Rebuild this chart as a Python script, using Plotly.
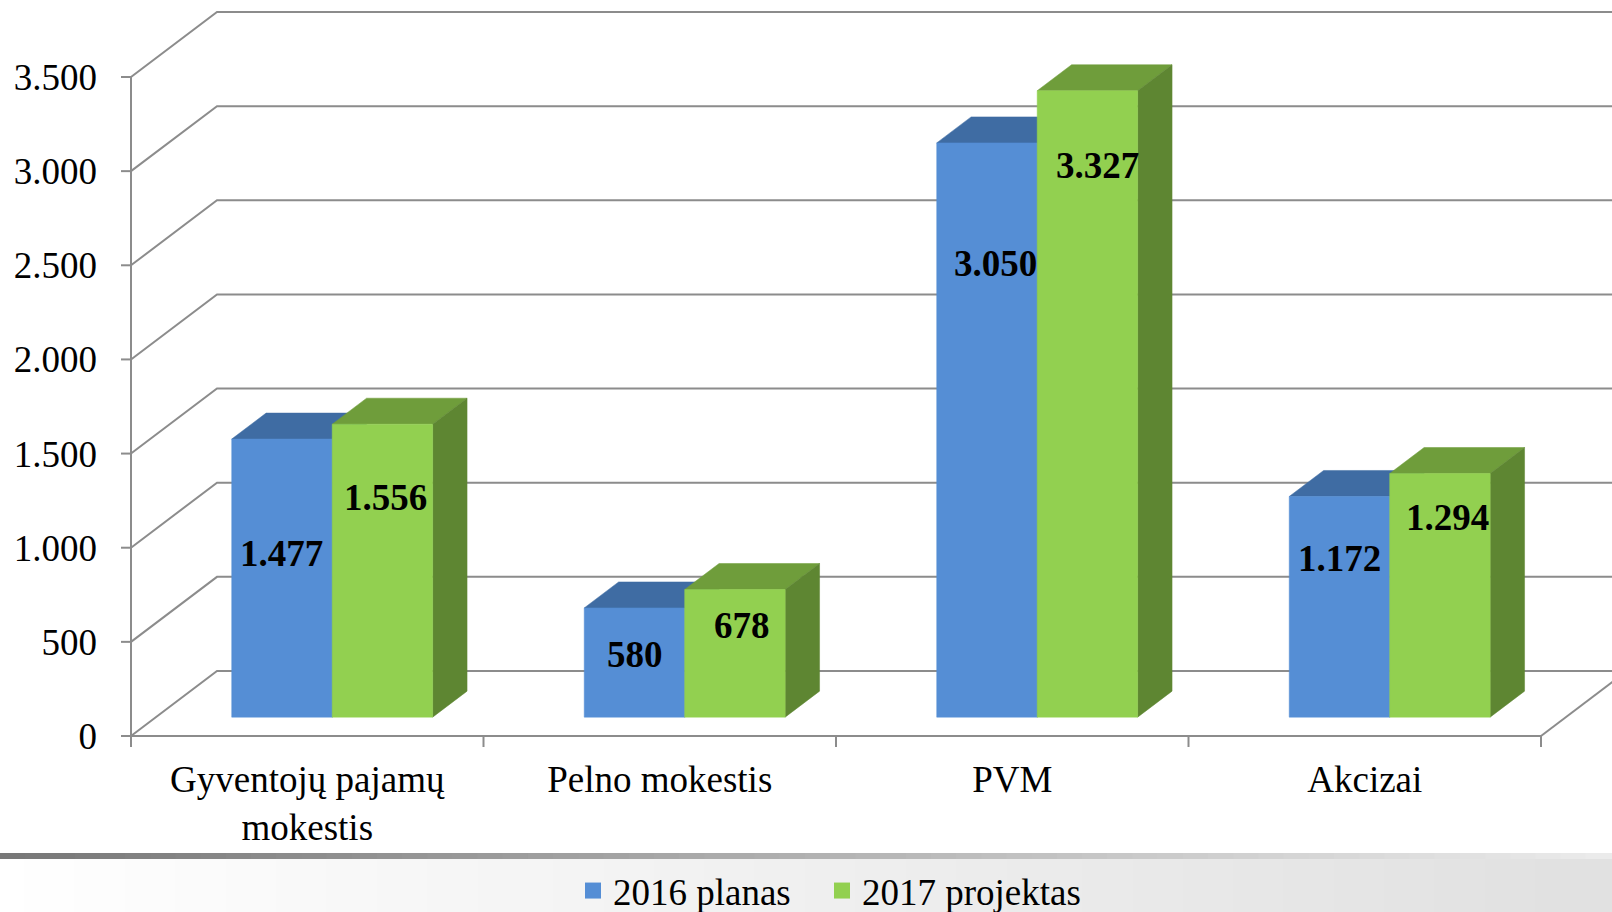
import plotly.graph_objects as go

# ---------------- data ----------------
categories = ["Gyventojų pajamų<br>mokestis", "Pelno mokestis", "PVM", "Akcizai"]
series_names = ["2016 planas", "2017 projektas"]
values_2016 = [1477, 580, 3050, 1172]
values_2017 = [1556, 678, 3327, 1294]
y_ticks = [0, 500, 1000, 1500, 2000, 2500, 3000, 3500]
y_tick_labels = ["0", "500", "1.000", "1.500", "2.000", "2.500", "3.000", "3.500"]

# label placement (labels were hand-placed in the source):
# vertical anchor as fraction of bar height, horizontal nudge in px
label_frac_2016 = [0.59, 0.57, 0.79, 0.72]
label_frac_2017 = [0.75, 0.72, 0.88, 0.82]
label_nudge_2016 = [0, 1, 9, 0]
label_nudge_2017 = [3, 7, 10, 8]

# ---------------- style / geometry ----------------
W, H = 1612, 912
ML, MR, MT, MB = 110, 0, 0, 162
plot_w = W - ML - MR
plot_h = H - MT - MB
CAT_PX = 352.5                    # px per category
AXIS_X_PX = 131                   # pixel x of the value axis
ZERO_PX = 736                     # pixel y of value 0
TOP_PX = 77                       # pixel y of 3500
PPU = (ZERO_PX - TOP_PX) / 3500   # px per value unit

x_min = -(AXIS_X_PX - ML) / CAT_PX
x_max = (W - AXIS_X_PX) / CAT_PX
y_min = -((MT + plot_h) - ZERO_PX) / PPU
y_max = (ZERO_PX - MT) / PPU

DEPTH_X = 86 / CAT_PX
DEPTH_Y = 65 / PPU
D0, D1 = 0.29, 0.69               # bar depth band
GROUP_W = 0.57

FONT = "Liberation Serif"
FS = 37
GRID = "#8c8c8c"
colors = {
    "2016 planas": dict(front="#558ED5", top="#3F6CA3", side="#3A6396"),
    "2017 projektas": dict(front="#92D050", top="#6F9D3B", side="#5E8632"),
}


def proj(x, v, d):
    return x + d * DEPTH_X, v + d * DEPTH_Y


def poly(pts):
    xs, ys = [], []
    for p in pts:
        px, py = proj(*p)
        xs.append(px)
        ys.append(py)
    xs.append(xs[0])
    ys.append(ys[0])
    return xs, ys


fig = go.Figure()

# ---------------- walls / gridlines ----------------
gx, gy = [], []
for v in y_ticks:
    a = proj(0, v, 0)
    b = proj(0, v, 1)
    gx += [a[0], b[0], x_max + 1, None]
    gy += [a[1], b[1], b[1], None]
# value axis line + ticks
gx += [0, 0, None]
gy += [0, y_ticks[-1], None]
for v in y_ticks:
    gx += [-10 / CAT_PX, 0, None]
    gy += [v, v, None]
# category axis line + boundary ticks
n = len(categories)
gx += [0, n, None]
gy += [0, 0, None]
for i in range(n + 1):
    gx += [i, i, None]
    gy += [0, -11 / PPU, None]
# floor right edge
a = proj(n, 0, 0)
b = proj(n, 0, 1)
gx += [a[0], b[0], None]
gy += [a[1], b[1], None]
fig.add_trace(go.Scatter(x=gx, y=gy, mode="lines", line=dict(color=GRID, width=2),
                         hoverinfo="skip", showlegend=False))

# ---------------- 3D bars ----------------
all_vals = [values_2016, values_2017]
all_fracs = [label_frac_2016, label_frac_2017]
all_nudges = [label_nudge_2016, label_nudge_2017]
bar_w = GROUP_W / 2
annotations = []
for i in range(n):
    for s, name in enumerate(series_names):
        v = all_vals[s][i]
        x0 = i + 0.5 - GROUP_W / 2 + s * bar_w
        x1 = x0 + bar_w
        c = colors[name]
        faces = [
            ([(x0, v, D0), (x1, v, D0), (x1, v, D1), (x0, v, D1)], c["top"]),
            ([(x1, 0, D0), (x1, 0, D1), (x1, v, D1), (x1, v, D0)], c["side"]),
            ([(x0, 0, D0), (x1, 0, D0), (x1, v, D0), (x0, v, D0)], c["front"]),
        ]
        for pts, col in faces:
            xs, ys = poly(pts)
            fig.add_trace(go.Scatter(x=xs, y=ys, mode="lines", fill="toself",
                                     fillcolor=col, line=dict(color=col, width=0.5),
                                     hoverinfo="skip", showlegend=False))
        lx, ly = proj((x0 + x1) / 2, all_fracs[s][i] * v, D0)
        annotations.append(dict(x=lx, y=ly, xref="x", yref="y",
                                xshift=all_nudges[s][i],
                                text="<b>" + f"{v:,}".replace(",", ".") + "</b>",
                                showarrow=False,
                                font=dict(family=FONT, size=FS, color="black")))


# ---------------- legends ----------------
def px_to_paper_x(px):
    return (px - ML) / plot_w


def px_to_paper_y(py):
    return (MT + plot_h - py) / plot_h


legend_ids = ["legend", "legend2"]
legend_left_px = [573, 822]
for name, lid in zip(series_names, legend_ids):
    fig.add_trace(go.Scatter(x=[None], y=[None], mode="markers", name=name,
                             legend=lid,
                             marker=dict(symbol="square", size=18,
                                         color=colors[name]["front"])))

legend_style = dict(orientation="h", xanchor="left", yanchor="middle",
                    y=px_to_paper_y(891), bgcolor="rgba(0,0,0,0)",
                    font=dict(family=FONT, size=FS, color="black"),
                    itemsizing="trace")

# ---------------- background band (slide footer) ----------------
shapes = []
NSTRIP = 64
for k in range(NSTRIP):
    f = k / (NSTRIP - 1)
    xa = px_to_paper_x(W * k / NSTRIP - 1)
    xb = px_to_paper_x(W * (k + 1) / NSTRIP + 1)
    g = int(255 - 30 * f)
    shapes.append(dict(type="rect", xref="paper", yref="paper", x0=xa, x1=xb,
                       y0=px_to_paper_y(H + 2), y1=px_to_paper_y(859),
                       fillcolor=f"rgb({g},{g},{g})", line=dict(width=0), layer="below"))
    g2 = int(120 + 115 * f)
    shapes.append(dict(type="rect", xref="paper", yref="paper", x0=xa, x1=xb,
                       y0=px_to_paper_y(859), y1=px_to_paper_y(853),
                       fillcolor=f"rgb({g2},{g2},{g2})", line=dict(width=0), layer="below"))

fig.update_layout(
    width=W, height=H, autosize=False,
    margin=dict(l=ML, r=MR, t=MT, b=MB, pad=0, autoexpand=False),
    paper_bgcolor="white", plot_bgcolor="rgba(0,0,0,0)",
    font=dict(family=FONT, size=FS, color="black"),
    xaxis=dict(range=[x_min, x_max], showgrid=False, zeroline=False, showline=False,
               tickmode="array", tickvals=[i + 0.5 for i in range(n)],
               ticktext=categories, ticks="", ticklabelstandoff=4, automargin=False,
               tickfont=dict(family=FONT, size=FS, color="black"), fixedrange=True),
    yaxis=dict(range=[y_min, y_max], showgrid=False, zeroline=False, showline=False,
               tickmode="array", tickvals=y_ticks, ticktext=y_tick_labels, ticks="",
               ticklabelstandoff=12, automargin=False,
               tickfont=dict(family=FONT, size=FS, color="black"), fixedrange=True),
    showlegend=True,
    legend=dict(x=px_to_paper_x(legend_left_px[0]), **legend_style),
    legend2=dict(x=px_to_paper_x(legend_left_px[1]), **legend_style),
    annotations=annotations,
    shapes=shapes,
)

fig.write_html(
    "out.html",
    config={"displayModeBar": False},
    post_script=(
        "document.body.style.margin='0';"
        "document.body.style.overflow='hidden';"
        "document.documentElement.style.overflow='hidden';"
    ),
)
